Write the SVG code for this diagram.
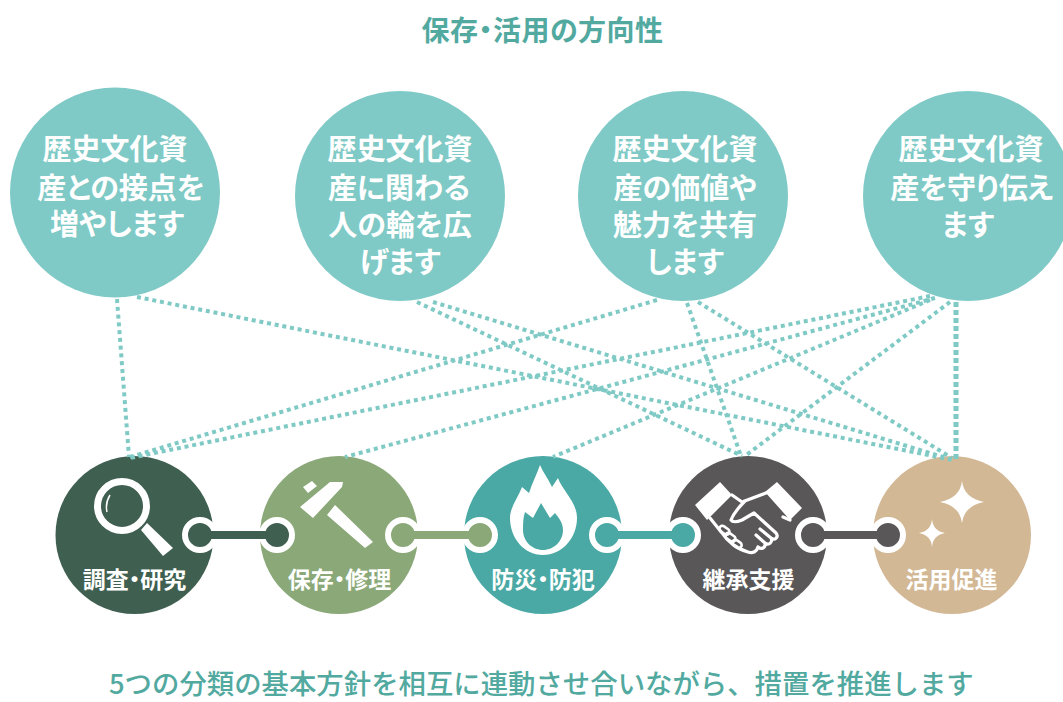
<svg xmlns="http://www.w3.org/2000/svg" width="1063" height="702" viewBox="0 0 1063 702">
<style>
text{font-family:"Noto Sans CJK JP","Noto Sans",sans-serif;text-anchor:middle}
.head{fill:#52a9a0;font-size:28px;font-weight:700;font-feature-settings:"palt";letter-spacing:.5px}
.foot{fill:#52a9a0;font-size:27.4px;font-weight:500;text-anchor:start}
.aim{fill:#7fcac6}
.aimt{fill:#fff;font-size:29px;font-weight:700;font-feature-settings:"palt"}
.lab{fill:#fff;font-size:23px;font-weight:700;font-feature-settings:"palt"}
.ico{fill:#fff}
.dot{fill:none;stroke:#7fcac5;stroke-width:4;stroke-dasharray:4 3.8}
.dotv{stroke-width:5;stroke-dasharray:5 3}
.ring{stroke:#fff;stroke-width:6}
.bar{stroke:none}
.c1{fill:#3f5f50}.c2{fill:#8aa878}.c3{fill:#4aa9a5}.c4{fill:#595757}.c5{fill:#d3b896}
</style>
<rect width="1063" height="702" fill="#fff"/>
<text class="head" x="542.5" y="41">保存・活用の方向性</text>
<g id="aim1"><circle class="aim" cx="115" cy="192.5" r="105"/>
<text class="aimt" x="115" y="160">歴史文化資</text><text class="aimt" x="121" y="199">産との接点を</text><text class="aimt" x="117" y="235">増やします</text></g>
<g id="aim2"><circle class="aim" cx="400" cy="196" r="105"/>
<text class="aimt" x="400" y="160">歴史文化資</text><text class="aimt" x="399" y="199">産に関わる</text><text class="aimt" x="400" y="236">人の輪を広</text><text class="aimt" x="400" y="273">げます</text></g>
<g id="aim3"><circle class="aim" cx="683" cy="196" r="105"/>
<text class="aimt" x="685" y="160">歴史文化資</text><text class="aimt" x="685" y="199">産の価値や</text><text class="aimt" x="685" y="236">魅力を共有</text><text class="aimt" x="685" y="273">します</text></g>
<g id="aim4"><circle class="aim" cx="968" cy="196" r="105"/>
<text class="aimt" x="971" y="160">歴史文化資</text><text class="aimt" x="972" y="199">産を守り伝え</text><text class="aimt" x="968" y="236">ます</text></g>

<g id="node-survey"><circle class="c1" cx="134.5" cy="535" r="79"/>
<circle cx="122" cy="506" r="24.5" fill="none" stroke="#fff" stroke-width="7"/>
<path d="M107 512Q105 503 110 495" fill="none" stroke="#fff" stroke-width="1.5"/>
<path class="ico" d="M141 530L147 523L173 548L163 556Z"/>
<text class="lab" x="134.5" y="588">調査・研究</text></g>
<g id="node-repair"><circle class="c2" cx="339" cy="535" r="79"/>
<path class="ico" d="M300 507L330 482H343L342 487L313 518ZM303 487L312 481L317 486L308 493ZM327 515L335 505L373 542L365 548Z"/>
<text class="lab" x="339.5" y="588">保存・修理</text></g>
<g id="node-disaster"><circle class="c3" cx="543" cy="535" r="79"/>
<path class="ico" fill-rule="evenodd" d="M543 555C524 555 510 538 510 518C510 507 518 498 522 487L529 493C532 483 537 474 540 465C544 474 549 480 552 487L558 478C562 490 577 502 577 518C577 538 562 555 543 555ZM541 503L533 518L525 512C523 518 523 524 523 530C523 541 532 550 543 550C554 550 563 541 563 530C563 523 559 518 555 513L550 518Z"/>
<text class="lab" x="543" y="588">防災・防犯</text></g>
<g id="node-succession"><circle class="c4" cx="748" cy="535" r="79"/>
<path class="ico" d="M695 505L720 482L732 495L707 520ZM777 482L802 508L790 520L765 492Z"/>
<path d="M732 495L742 502L766 493M783 517L790 520M745 501C738 508 733 515 731 520C733 523 737 522 742 520L754 513L776 533C779 537 775 541 771 538L760 529M771 538C773 542 769 546 765 543L756 535M765 543C766 548 761 550 758 547M710 518L722 533C727 541 737 549 748 552C753 554 757 551 758 547" fill="none" stroke="#fff" stroke-width="3.2" stroke-linejoin="round" stroke-linecap="round"/>
<g fill="none" stroke="#fff" stroke-width="2.6"><rect x="719" y="527" width="11" height="6" rx="3" transform="rotate(35 724 530)"/><rect x="725" y="534" width="11" height="6" rx="3" transform="rotate(35 730 537)"/><rect x="732" y="541" width="10" height="6" rx="3" transform="rotate(35 737 544)"/></g>
<text class="lab" x="748.5" y="588">継承支援</text></g>
<g id="node-promote"><circle class="c5" cx="952" cy="535" r="79"/>
<path class="ico" d="M962 481Q964 498 984 502Q964 506 962 523Q960 506 940 502Q960 498 962 481ZM932 519Q933 531 945 533Q933 535 932 547Q931 535 919 533Q931 531 932 519Z"/>
<text class="lab" x="951.5" y="588">活用促進</text></g>

<g id="connectors">
<path class="dot" d="M117 299L129 457M137 297L953 460M417 302L742 456M433 302L953 460M657 300L130 457M687 303L741 456M698 302L952 458M930 296L130 458M935 298L345 457M930 300L553 457M950 302L745 456"/>
<path class="dot dotv" d="M956 302V460"/>
<g class="ring">
<circle class="c1" cx="200" cy="535" r="15"/><circle class="c1" cx="277" cy="535" r="15"/><rect class="c1 bar" x="200" y="531" width="77" height="8"/>
<circle class="c2" cx="403" cy="535" r="15"/><circle class="c2" cx="480" cy="535" r="15"/><rect class="c2 bar" x="403" y="531" width="77" height="8"/>
<circle class="c3" cx="607" cy="535" r="15"/><circle class="c3" cx="683" cy="535" r="15"/><rect class="c3 bar" x="607" y="531" width="76" height="8"/>
<circle class="c4" cx="813" cy="535" r="15"/><circle class="c4" cx="888" cy="535" r="15"/><rect class="c4 bar" x="813" y="531" width="75" height="8"/>
</g></g>
<text class="foot" x="109" y="694">5つの分類の基本方針を相互に連動させ合いながら、措置を推進します</text>
</svg>
